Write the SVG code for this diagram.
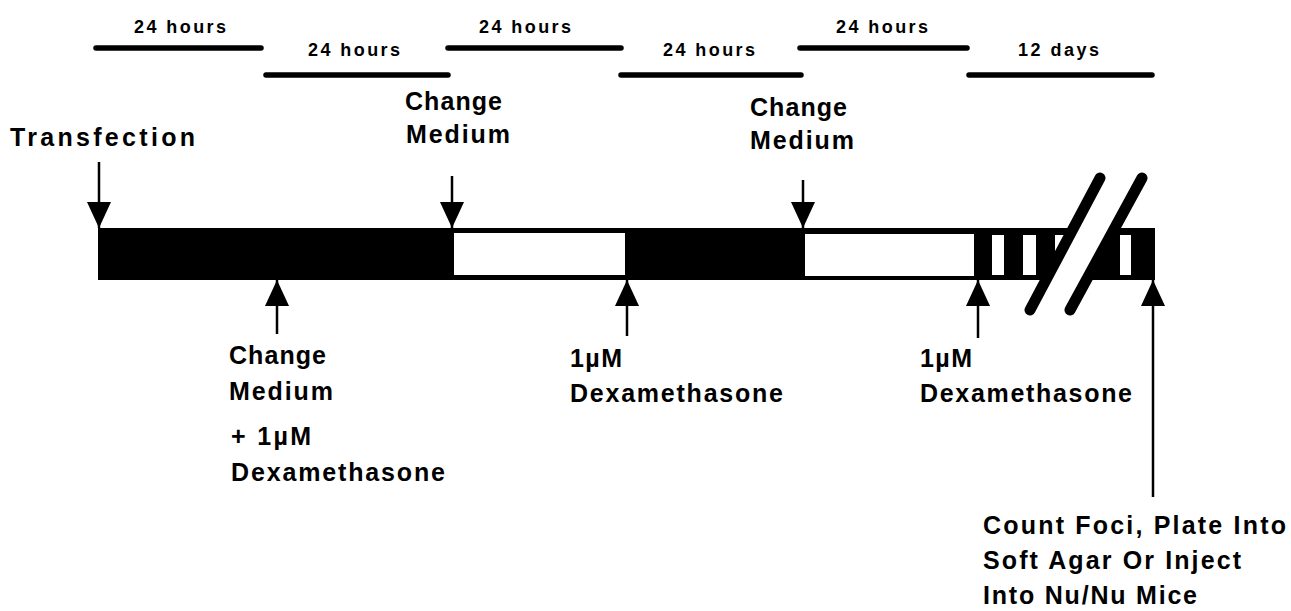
<svg xmlns="http://www.w3.org/2000/svg" width="1291" height="611" viewBox="0 0 1291 611">
<style>
.dur{font-family:"Liberation Sans",Arial,sans-serif;font-weight:bold;font-size:18px;fill:#000}
.lbl{font-family:"Liberation Sans",Arial,sans-serif;font-weight:bold;font-size:25px;fill:#000}
.span{stroke:#000;stroke-width:5.5;stroke-linecap:round}
.arr{stroke:#000;stroke-width:2.5;fill:none}
.slash{stroke:#000;stroke-width:11;stroke-linecap:round}
</style>
<defs>
<marker id="ah" markerUnits="userSpaceOnUse" markerWidth="26" markerHeight="24" viewBox="0 0 26 24" refX="26" refY="12" orient="auto">
<path d="M0,0 L26,12 L0,24 z" fill="#000"/>
</marker>
</defs>
<rect width="1291" height="611" fill="#fff"/>
<g id="durations">
<line class="span" x1="96" y1="48" x2="261" y2="48"/>
<text class="dur" x="134" y="33" textLength="92" lengthAdjust="spacing">24 hours</text>
<line class="span" x1="266" y1="75" x2="448" y2="75"/>
<text class="dur" x="308" y="56" textLength="92" lengthAdjust="spacing">24 hours</text>
<line class="span" x1="448" y1="48" x2="621" y2="48"/>
<text class="dur" x="479" y="33" textLength="92" lengthAdjust="spacing">24 hours</text>
<line class="span" x1="621" y1="75" x2="801" y2="75"/>
<text class="dur" x="663" y="56" textLength="92" lengthAdjust="spacing">24 hours</text>
<line class="span" x1="800" y1="48" x2="967" y2="48"/>
<text class="dur" x="836" y="33" textLength="92" lengthAdjust="spacing">24 hours</text>
<line class="span" x1="969" y1="75" x2="1152" y2="75"/>
<text class="dur" x="1018" y="56" textLength="81" lengthAdjust="spacing">12 days</text>
</g>
<g id="timeline">
<rect x="98" y="228" width="1057" height="52" fill="#000"/>
<rect x="454" y="233" width="171" height="42" fill="#fff"/>
<rect x="805" y="234" width="169" height="42" fill="#fff"/>
<rect x="992" y="235" width="12" height="40" fill="#fff"/>
<rect x="1023" y="235" width="13" height="40" fill="#fff"/>
<rect x="1055" y="235" width="11" height="40" fill="#fff"/>
<rect x="1120" y="235" width="11" height="40" fill="#fff"/>
<polygon points="1030,310 1100,178 1142,178 1070,310" fill="#fff"/>
<line class="slash" x1="1030" y1="310" x2="1100" y2="178"/>
<line class="slash" x1="1070" y1="310" x2="1142" y2="178"/>
</g>
<g id="transfection">
<text class="lbl" x="10" y="146" textLength="185" lengthAdjust="spacing">Transfection</text>
</g>
<g id="change-medium-1">
<text class="lbl" x="405" y="110" textLength="97" lengthAdjust="spacing">Change</text>
<text class="lbl" x="406" y="143" textLength="104" lengthAdjust="spacing">Medium</text>
</g>
<g id="change-medium-2">
<text class="lbl" x="750" y="116" textLength="97" lengthAdjust="spacing">Change</text>
<text class="lbl" x="750" y="149" textLength="104" lengthAdjust="spacing">Medium</text>
</g>
<g id="change-medium-dex">
<text class="lbl" x="229" y="364" textLength="97" lengthAdjust="spacing">Change</text>
<text class="lbl" x="229" y="400" textLength="104" lengthAdjust="spacing">Medium</text>
<text class="lbl" x="231" y="445" textLength="80" lengthAdjust="spacing">+ 1µM</text>
<text class="lbl" x="231" y="481" textLength="214" lengthAdjust="spacing">Dexamethasone</text>
</g>
<g id="dex-1">
<text class="lbl" x="570" y="367" textLength="52" lengthAdjust="spacing">1µM</text>
<text class="lbl" x="570" y="402" textLength="213" lengthAdjust="spacing">Dexamethasone</text>
</g>
<g id="dex-2">
<text class="lbl" x="920" y="367" textLength="52" lengthAdjust="spacing">1µM</text>
<text class="lbl" x="920" y="402" textLength="212" lengthAdjust="spacing">Dexamethasone</text>
</g>
<g id="count-foci">
<text class="lbl" x="983" y="534" textLength="303" lengthAdjust="spacing">Count Foci, Plate Into</text>
<text class="lbl" x="983" y="569" textLength="258" lengthAdjust="spacing">Soft Agar Or Inject</text>
<text class="lbl" x="983" y="604" textLength="214" lengthAdjust="spacing">Into Nu/Nu Mice</text>
</g>
<g id="connectors">
<line class="arr" x1="99" y1="162" x2="99" y2="228" marker-end="url(#ah)"/>
<line class="arr" x1="452" y1="176" x2="452" y2="228" marker-end="url(#ah)"/>
<line class="arr" x1="803" y1="180" x2="803" y2="228" marker-end="url(#ah)"/>
<line class="arr" x1="277" y1="334" x2="277" y2="280" marker-end="url(#ah)"/>
<line class="arr" x1="627" y1="336" x2="627" y2="280" marker-end="url(#ah)"/>
<line class="arr" x1="978" y1="338" x2="978" y2="280" marker-end="url(#ah)"/>
<line class="arr" x1="1153" y1="497" x2="1153" y2="280" marker-end="url(#ah)"/>
</g>
</svg>
